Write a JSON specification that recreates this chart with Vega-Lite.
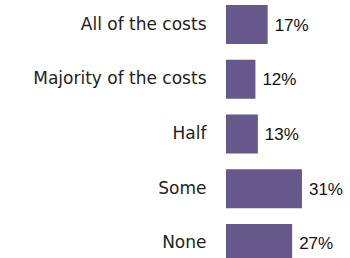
{
  "$schema": "https://vega.github.io/schema/vega-lite/v6.json",
  "autosize": "none",
  "width": 123,
  "height": 268,
  "padding": {"left": 226, "top": 0, "right": 0, "bottom": 0},
  "background": "white",
  "config": {"view": {"stroke": null}},
  "data": {"values": [
    {"category": "All of the costs", "value": 0.17},
    {"category": "Majority of the costs", "value": 0.12},
    {"category": "Half", "value": 0.13},
    {"category": "Some", "value": 0.31},
    {"category": "None", "value": 0.27}
  ]},
  "encoding": {
    "y": {
      "field": "category", "type": "nominal", "sort": null,
      "scale": {"paddingInner": 0.287, "paddingOuter": 0.0914},
      "axis": {"title": null, "domain": false, "ticks": false, "labelPadding": 20,
               "labelFont": "DejaVu Sans", "labelFontSize": 17, "labelColor": "#222222", "labelLimit": 300}
    },
    "x": {
      "field": "value", "type": "quantitative",
      "scale": {"domain": [0, 0.502], "nice": false},
      "axis": null
    }
  },
  "layer": [
    {"mark": {"type": "bar", "color": "#66588a"}},
    {"mark": {"type": "text", "align": "left", "dx": 7, "dy": 1, "font": "Liberation Sans", "fontSize": 17, "color": "#111111"},
     "encoding": {"text": {"field": "value", "type": "quantitative", "format": ".0%"}}}
  ]
}
